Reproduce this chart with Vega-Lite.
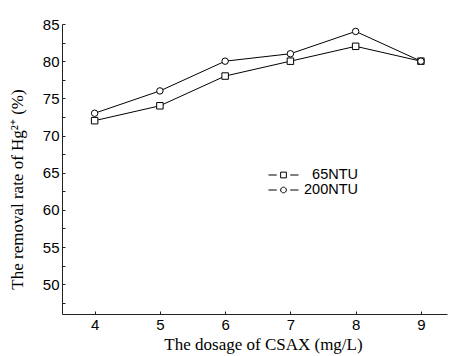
{
  "$schema": "https://vega.github.io/schema/vega-lite/v6.json",
  "width": 385,
  "height": 290,
  "autosize": "none",
  "padding": {"left": 62, "top": 24, "right": 3, "bottom": 42},
  "background": "white",
  "config": {
    "view": {"stroke": null},
    "axis": {
      "grid": false,
      "domainColor": "#222",
      "tickColor": "#222",
      "tickSize": -3,
      "labelFont": "Liberation Sans",
      "labelFontSize": 15,
      "labelColor": "black",
      "titleFont": "Liberation Serif",
      "titleFontSize": 17,
      "titleFontWeight": "normal",
      "titleColor": "black"
    }
  },
  "data": {
    "values": [
      {"dose": 4, "rate": 72, "series": "65NTU"},
      {"dose": 5, "rate": 74, "series": "65NTU"},
      {"dose": 6, "rate": 78, "series": "65NTU"},
      {"dose": 7, "rate": 80, "series": "65NTU"},
      {"dose": 8, "rate": 82, "series": "65NTU"},
      {"dose": 9, "rate": 80, "series": "65NTU"},
      {"dose": 4, "rate": 73, "series": "200NTU"},
      {"dose": 5, "rate": 76, "series": "200NTU"},
      {"dose": 6, "rate": 80, "series": "200NTU"},
      {"dose": 7, "rate": 81, "series": "200NTU"},
      {"dose": 8, "rate": 84, "series": "200NTU"},
      {"dose": 9, "rate": 80, "series": "200NTU"}
    ]
  },
  "encoding": {
    "x": {
      "field": "dose",
      "type": "quantitative",
      "scale": {"domain": [3.5, 9.4], "nice": false, "zero": false},
      "axis": {
        "title": "The dosage of CSAX  (mg/L)",
        "values": [4, 4.5, 5, 5.5, 6, 6.5, 7, 7.5, 8, 8.5, 9],
        "format": "d",
        "labelExpr": "datum.value % 1 === 0 ? datum.label : ''",
        "labelPadding": 6,
        "titlePadding": 4,
        "titleX": 201
      }
    },
    "y": {
      "field": "rate",
      "type": "quantitative",
      "scale": {"domain": [46, 85], "nice": false, "zero": false},
      "axis": {
        "title": "The removal rate of Hg²⁺ (%)",
        "values": [47.5, 50, 52.5, 55, 57.5, 60, 62.5, 65, 67.5, 70, 72.5, 75, 77.5, 80, 82.5, 85],
        "labelExpr": "datum.value % 5 === 0 ? datum.label : ''",
        "labelPadding": 6,
        "titlePadding": 16,
        "titleY": 165
      }
    }
  },
  "layer": [
    {
      "mark": {"type": "line", "color": "black", "strokeWidth": 1},
      "encoding": {"detail": {"field": "series", "type": "nominal"}}
    },
    {
      "mark": {"type": "point", "filled": true, "fill": "white", "stroke": "black", "strokeWidth": 1, "opacity": 1},
      "encoding": {
        "shape": {
          "field": "series",
          "type": "nominal",
          "scale": {"domain": ["65NTU", "200NTU"], "range": ["square", "circle"]},
          "legend": null
        },
        "size": {"value": 42}
      }
    },
    {
      "transform": [{"filter": "false"}],
      "mark": {"type": "point", "filled": false, "stroke": "black"},
      "encoding": {
        "shape": {
          "field": "series",
          "type": "nominal",
          "scale": {
            "domain": ["65NTU", "200NTU"],
            "range": [
              "M-1,0H-0.45M0.45,0H1M-0.19,-0.19H0.19V0.19H-0.19Z",
              "M-1,0H-0.45M0.45,0H1M0.19,0A0.19,0.19 0 1,1 -0.19,0A0.19,0.19 0 1,1 0.19,0Z"
            ]
          },
          "legend": {
            "title": null,
            "orient": "none",
            "legendX": 206,
            "legendY": 144,
            "symbolSize": 900,
            "symbolStrokeWidth": 1,
            "symbolStrokeColor": "black",
            "symbolFillColor": "white",
            "symbolOpacity": 1,
            "clipHeight": 14,
            "rowPadding": 0,
            "labelAlign": "right",
            "labelOffset": 59,
            "labelFont": "Liberation Sans",
            "labelFontSize": 14.5,
            "labelColor": "black"
          }
        }
      }
    }
  ],
  "resolve": {"scale": {"shape": "independent"}, "legend": {"shape": "independent"}}
}
